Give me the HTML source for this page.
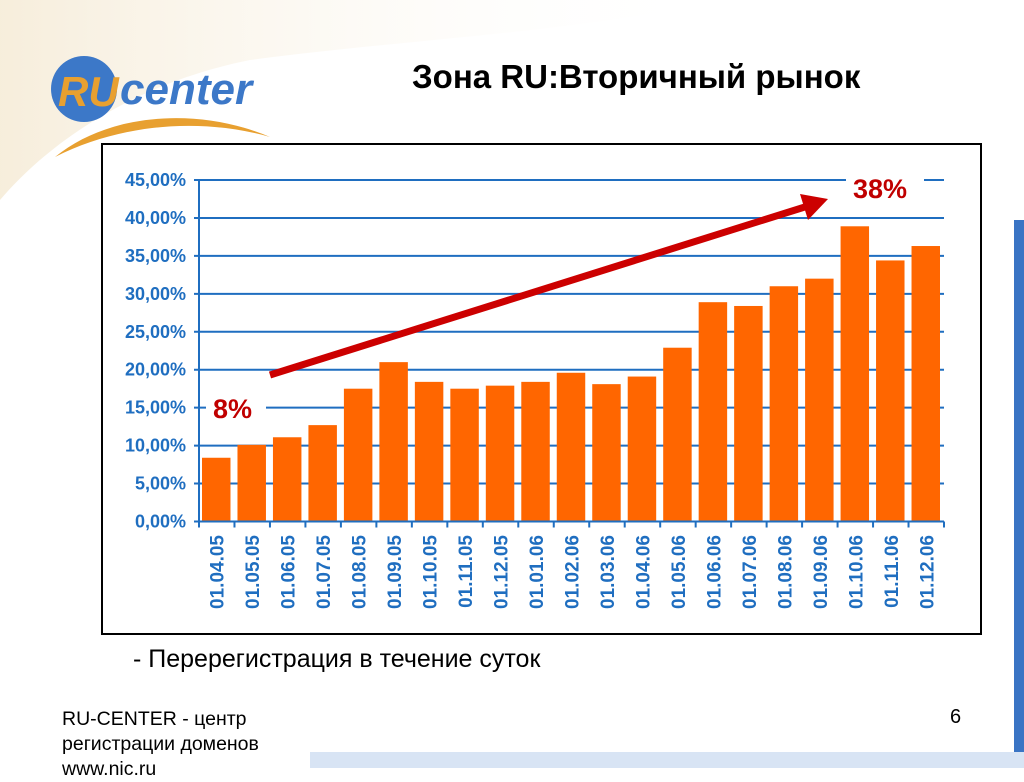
<!DOCTYPE html>
<html><head><meta charset="utf-8"><style>
body{margin:0;width:1024px;height:768px;overflow:hidden;background:#fff;font-family:"Liberation Sans",sans-serif;position:relative}
.abs{position:absolute}
</style></head><body>
<svg class="abs" style="left:0;top:0" width="1024" height="768">
<defs><linearGradient id="bg" x1="0" y1="0" x2="1" y2="0"><stop offset="0" stop-color="#f3e6cc"/><stop offset="1" stop-color="#fff" stop-opacity="0"/></linearGradient></defs>
<path d="M0 0 H720 C600 30 400 40 250 60 C150 80 60 130 0 200 Z" fill="url(#bg)" opacity="0.7"/>
<rect x="1014" y="220" width="10" height="548" fill="#3a74c4"/>
<rect x="310" y="752" width="714" height="16" fill="#d8e4f4"/>
</svg>
<svg class="abs" style="left:50px;top:52px" width="230" height="110">
<circle cx="34" cy="37" r="33" fill="#3c78c8"/>
<text x="8" y="54" font-family="Liberation Sans" font-weight="bold" font-style="italic" font-size="42" fill="#e8a030">RU</text>
<text x="70" y="52" font-family="Liberation Sans" font-weight="bold" font-style="italic" font-size="44" fill="#3c78c8">center</text>
<path d="M5 105 C60 60 150 55 220 85 C150 65 70 72 5 105Z" fill="#e8a030"/>
</svg>
<div class="abs" style="left:412px;top:58px;font-size:33px;font-weight:bold;color:#000">Зона RU:Вторичный рынок</div>
<div class="abs" style="left:101px;top:143px;width:877px;height:488px;border:2px solid #000;background:#fff"></div>
<svg id="chart" class="abs" style="left:0;top:0" width="1024" height="768"></svg>
<div class="abs" style="left:133px;top:645px;font-size:25px;color:#000">- Перерегистрация в течение суток</div>
<div class="abs" style="left:62px;top:707px;font-size:19.5px;line-height:25px;color:#000">RU-CENTER - центр<br>регистрации доменов<br>www.nic.ru</div>
<div class="abs" style="left:950px;top:706px;font-size:20px;color:#000">6</div>
<script>
const categories=["01.04.05","01.05.05","01.06.05","01.07.05","01.08.05","01.09.05","01.10.05","01.11.05","01.12.05","01.01.06","01.02.06","01.03.06","01.04.06","01.05.06","01.06.06","01.07.06","01.08.06","01.09.06","01.10.06","01.11.06","01.12.06"];
const values=[8.4,10.1,11.1,12.7,17.5,21.0,18.4,17.5,17.9,18.4,19.6,18.1,19.1,22.9,28.9,28.4,31.0,32.0,38.9,34.4,36.3];
const yTicks=[0,5,10,15,20,25,30,35,40,45];
const tickLabels=["0,00%","5,00%","10,00%","15,00%","20,00%","25,00%","30,00%","35,00%","40,00%","45,00%"];
const NS="http://www.w3.org/2000/svg",svg=document.getElementById('chart');
const x0=199,x1=944,y0=521.5,yTop=180,yMax=45;
const band=(x1-x0)/categories.length;
const Y=v=>y0-(v/yMax)*(y0-yTop);
const X=i=>x0+i*band;
function mk(t,a){const e=document.createElementNS(NS,t);for(const k in a)e.setAttribute(k,a[k]);svg.appendChild(e);return e;}
yTicks.forEach((t,i)=>{
 const g=mk('line',{x1:x0-5,x2:x1,y1:Y(t),y2:Y(t),stroke:'#1f6ec0','stroke-width':2});
 
 
 const l=mk('text',{x:186,y:Y(t)+6,'text-anchor':'end','font-size':18,'font-weight':'bold',fill:'#1f6ec0','font-family':'Liberation Sans'});
 l.textContent=tickLabels[i];
 
 
});
const ax=mk('line',{x1:x0,x2:x0,y1:yTop,y2:y0+5,stroke:'#1f6ec0','stroke-width':2});


values.forEach((v,i)=>{
 const b=mk('rect',{x:X(i)+3,y:Y(v),width:band-7,height:y0-Y(v),fill:'#ff6600'});
 
 
});
for(let i=0;i<=categories.length;i++){
 const t=mk('line',{x1:X(i),x2:X(i),y1:y0,y2:y0+6,stroke:'#1f6ec0','stroke-width':2});
 
 
}
const xa=mk('line',{x1:x0,x2:x1,y1:y0,y2:y0,stroke:'#1f6ec0','stroke-width':2});


categories.forEach((c,i)=>{
 const cx=X(i)+band/2+7,cy=535;
 const t=mk('text',{x:cx,y:cy,'text-anchor':'end','font-size':19,'font-weight':'bold',fill:'#1f6ec0','font-family':'Liberation Sans',transform:`rotate(-90 ${cx} ${cy})`});
 t.textContent=c;
 
 
});
const bx=mk('rect',{x:206,y:390,width:60,height:36,fill:'#fff'});


const a=mk('text',{x:213,y:418,'font-size':27,'font-weight':'bold',fill:'#c00000','font-family':'Liberation Sans'});
a.textContent='8%';


const bx2=mk('rect',{x:846,y:170,width:78,height:36,fill:'#fff'});


const b2=mk('text',{x:853,y:198,'font-size':27,'font-weight':'bold',fill:'#c00000','font-family':'Liberation Sans'});
b2.textContent='38%';


const ar=mk('line',{x1:270,y1:375,x2:808,y2:206,stroke:'#cc0000','stroke-width':7});


const ah=mk('polygon',{points:'828,199 800,194 808,220',fill:'#cc0000'});


</script>
</body></html>
